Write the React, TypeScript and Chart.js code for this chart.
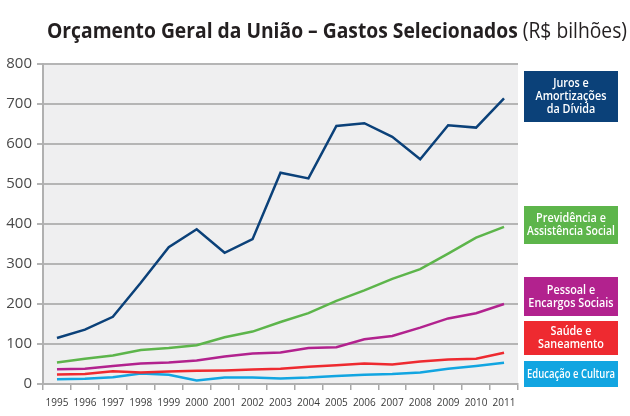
import React, { useEffect, useRef } from "react";
import { Chart, registerables } from "chart.js";

Chart.register(...registerables);

// ---- data ----
const years = ["1995", "1996", "1997", "1998", "1999", "2000", "2001", "2002", "2003", "2004", "2005", "2006", "2007", "2008", "2009", "2010", "2011"];
const juros = [115, 136, 168, 253, 342, 387, 328, 362, 528, 514, 645, 652, 618, 562, 647, 641, 714];
const previdencia = [54, 63, 71, 85, 90, 97, 117, 131, 155, 177, 208, 234, 263, 287, 326, 366, 393];
const pessoal = [37, 38, 45, 51, 54, 59, 69, 76, 79, 90, 92, 112, 120, 141, 164, 177, 200];
const saude = [24, 25, 32, 29, 31, 33, 34, 36, 38, 43, 47, 51, 49, 56, 61, 63, 78];
const educacao = [12, 13, 17, 26, 23, 9, 16, 16, 14, 16, 20, 23, 25, 29, 38, 45, 53];
const yTicks = [0, 100, 200, 300, 400, 500, 600, 700, 800];

const seriesNames = [
  ["Juros e", "Amortizações", "da Dívida"],
  ["Previdência e", "Assistência Social"],
  ["Pessoal e", "Encargos Sociais"],
  ["Saúde e", "Saneamento"],
  ["Educação e Cultura"],
];
const titleBold = "Orçamento Geral da União – Gastos Selecionados";
const titleNormal = " (R$ bilhões)";

// ---- styles ----
const colors = ["#0b4179", "#5db54b", "#b2228e", "#ee2a30", "#12a5e1"];
const legendBoxes = [
  { top: 71, bottom: 122 },
  { top: 206, bottom: 244 },
  { top: 277, bottom: 316 },
  { top: 321, bottom: 355 },
  { top: 361, bottom: 387 },
];
const FONT = '"Open Sans", "Noto Sans", sans-serif';

const decorPlugin = {
  id: "decor",
  beforeDraw(chart: any) {
    const { ctx, chartArea: a } = chart;
    ctx.save();
    ctx.fillStyle = "#ffffff";
    ctx.fillRect(0, 0, chart.width, chart.height);
    ctx.fillStyle = "#efeff0";
    ctx.fillRect(a.left, a.top, a.right - a.left, a.bottom - a.top);
    ctx.restore();
  },
  afterDraw(chart: any) {
    const { ctx } = chart;
    ctx.save();
    // title
    const size = 21;
    ctx.font = `bold ${size}px ${FONT}`;
    const w1 = ctx.measureText(titleBold).width;
    ctx.font = `${size}px ${FONT}`;
    const w2 = ctx.measureText(titleNormal).width;
    const target = 580;
    const sx = Math.min(1, target / (w1 + w2));
    ctx.translate(47, 38);
    ctx.scale(sx, 1);
    ctx.fillStyle = "#231f20";
    ctx.textBaseline = "alphabetic";
    ctx.textAlign = "left";
    ctx.font = `bold ${size}px ${FONT}`;
    ctx.fillText(titleBold, 0, 0);
    ctx.font = `${size}px ${FONT}`;
    ctx.fillText(titleNormal, w1, 0);
    ctx.restore();

    // legend boxes
    const left = 524;
    const width = 94;
    legendBoxes.forEach((b, i) => {
      ctx.save();
      ctx.fillStyle = colors[i];
      ctx.fillRect(left, b.top, width, b.bottom - b.top);
      const lines = seriesNames[i];
      const lh = 13;
      const cy = (b.top + b.bottom) / 2;
      const startY = cy - ((lines.length - 1) * lh) / 2;
      ctx.fillStyle = "#ffffff";
      ctx.font = `600 12px ${FONT}`;
      ctx.textAlign = "center";
      ctx.textBaseline = "middle";
      lines.forEach((ln, j) => {
        const w = ctx.measureText(ln).width;
        const s = Math.min(0.9, 88 / w);
        ctx.save();
        ctx.translate(left + width / 2, startY + j * lh + 0.5);
        ctx.scale(s, 1);
        ctx.fillText(ln, 0, 0);
        ctx.restore();
      });
      ctx.restore();
    });
  },
};

export default function App() {
  const ref = useRef<HTMLCanvasElement | null>(null);
  useEffect(() => {
    if (!ref.current) return;
    const series = [juros, previdencia, pessoal, saude, educacao];
    const chart = new Chart(ref.current, {
      type: "line",
      data: {
        labels: years,
        datasets: series.map((d, i) => ({
          label: seriesNames[i].join(" "),
          data: d,
          borderColor: colors[i],
          backgroundColor: colors[i],
          borderWidth: 2.5,
          pointRadius: 0,
          tension: 0,
          fill: false,
        })),
      },
      options: {
        responsive: false,
        animation: false,
        layout: { padding: { top: 64, right: 112, left: 0, bottom: 0 } },
        plugins: { legend: { display: false }, tooltip: { enabled: false }, title: { display: false } },
        scales: {
          x: {
            type: "category",
            offset: true,
            grid: {
              display: true,
              drawOnChartArea: false,
              drawTicks: true,
              tickLength: 6,
              color: "#a9a9a9",
              lineWidth: 1.5,
              offset: true,
            },
            border: { display: true, color: "#b0b0b0", width: 2 },
            ticks: {
              color: "#3a3a3a",
              font: { family: FONT, size: 10 },
              padding: 7,
              maxRotation: 0,
              autoSkip: false,
            },
            afterFit(scale: any) {
              scale.height = 32;
            },
          },
          y: {
            min: 0,
            max: 800,
            afterBuildTicks(scale: any) {
              scale.ticks = yTicks.map((v) => ({ value: v }));
            },
            grid: {
              color: "#b5b5b5",
              lineWidth: 2,
              drawTicks: true,
              tickLength: 6,
            },
            border: { display: true, color: "#b0b0b0", width: 2 },
            ticks: {
              color: "#4a4a4a",
              font: { family: FONT, size: 15 },
              padding: 5,
            },
            afterFit(scale: any) {
              scale.width = 43;
            },
          },
        },
      },
      plugins: [decorPlugin],
    });
    return () => chart.destroy();
  }, []);
  return (
    <div style={{ position: "fixed", left: 0, top: 0, width: 630, height: 416, background: "#fff" }}>
      <canvas ref={ref} width={630} height={416} style={{ display: "block" }} />
    </div>
  );
}
